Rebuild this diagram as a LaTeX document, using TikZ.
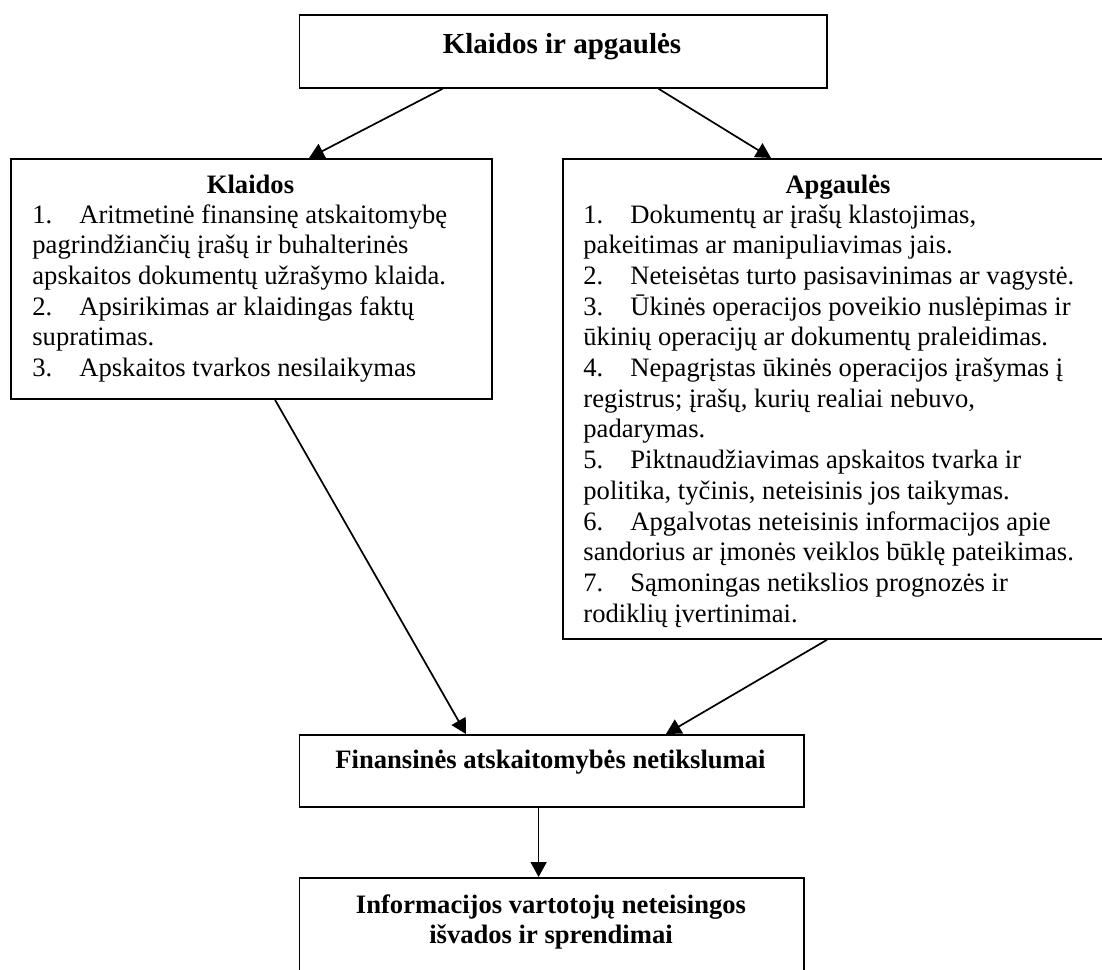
\documentclass[tikz,border=0pt]{standalone}
\usepackage{fontspec}
\setmainfont{Liberation Serif}
\usetikzlibrary{arrows.meta,calc}
\newcommand\lnitem[2]{\hbox{\makebox[23.5pt][l]{#1}#2}}
\newcommand\lnplain[1]{\hbox{#1}}
\begin{document}
\begin{tikzpicture}[x=0.5pt,y=-0.5pt,
  box/.style={draw, line width=0.9pt, inner sep=0pt, anchor=north west},
  arr/.style={-{Triangle[length=7.5pt,width=8pt]}, line width=0.85pt},
  txt/.style={inner sep=0pt},
  body/.style={font=\fontsize{13.3}{15.35}\selectfont},
  bold/.style={font=\bfseries\fontsize{13.3}{15.35}\selectfont}]
\useasboundingbox (0,0) rectangle (1102,969);
\clip (0,0) rectangle (1102,969);
% boxes
\node[box, minimum width=263.7pt, minimum height=36.5pt] (top) at (298.6,14) {};
\node[box, minimum width=240.5pt, minimum height=120pt] (klaidos) at (10,158) {};
\node[box, minimum width=276pt, minimum height=240pt] (apg) at (562,158) {};
\node[box, minimum width=252.2pt, minimum height=36pt] (fin) at (298.6,734) {};
\node[box, minimum width=252.2pt, minimum height=62pt] (info) at (298.6,877) {};
% texts
\node[txt, anchor=base, font=\bfseries\fontsize{14.5}{17}\selectfont] (ttop) at (562,54) {Klaidos ir apgaulės};
\node[txt, bold, anchor=base] (tkl) at (250.5,193) {Klaidos};
\node[txt, body, anchor=base west] (lkl) at (32,223) {\vtop{%
  \lnitem{1.}{Aritmetinė finansinę atskaitomybę}
  \lnplain{pagrindžiančių įrašų ir buhalterinės}
  \lnplain{apskaitos dokumentų užrašymo klaida.}
  \lnitem{2.}{Apsirikimas ar klaidingas faktų}
  \lnplain{supratimas.}
  \lnitem{3.}{Apskaitos tvarkos nesilaikymas}}};
\node[txt, bold, anchor=base] (tap) at (838,193) {Apgaulės};
\node[txt, body, anchor=base west] (lap) at (583,223) {\vtop{%
  \lnitem{1.}{Dokumentų ar įrašų klastojimas,}
  \lnplain{pakeitimas ar manipuliavimas jais.}
  \lnitem{2.}{Neteisėtas turto pasisavinimas ar vagystė.}
  \lnitem{3.}{Ūkinės operacijos poveikio nuslėpimas ir}
  \lnplain{ūkinių operacijų ar dokumentų praleidimas.}
  \lnitem{4.}{Nepagrįstas ūkinės operacijos įrašymas į}
  \lnplain{registrus; įrašų, kurių realiai nebuvo,}
  \lnplain{padarymas.}
  \lnitem{5.}{Piktnaudžiavimas apskaitos tvarka ir}
  \lnplain{politika, tyčinis, neteisinis jos taikymas.}
  \lnitem{6.}{Apgalvotas neteisinis informacijos apie}
  \lnplain{sandorius ar įmonės veiklos būklę pateikimas.}
  \lnitem{7.}{Sąmoningas netikslios prognozės ir}
  \lnplain{rodiklių įvertinimai.}}};
\node[txt, bold, anchor=base] (tfin) at (550.5,768) {Finansinės atskaitomybės netikslumai};
\node[txt, bold, anchor=base] (tinfo) at (551,913) {\vtop{\halign{\hfil#\hfil\cr
  Informacijos vartotojų neteisingos\cr
  išvados ir sprendimai\cr}}};
% connectors
\draw[arr] ($(top.south west)+(143.9,0)$) -- ($(klaidos.north west)+(299,0)$);
\draw[arr] ($(top.south west)+(360,0)$) -- ($(apg.north west)+(209,0)$);
\draw[arr] ($(klaidos.south west)+(265,0)$) -- ($(fin.north west)+(167.4,0)$);
\draw[arr] ($(apg.south west)+(265,0)$) -- ($(fin.north west)+(367.4,0)$);
\draw[arr] ($(fin.south west)+(240,0)$) -- ($(info.north west)+(240,0)$);
\end{tikzpicture}
\end{document}
